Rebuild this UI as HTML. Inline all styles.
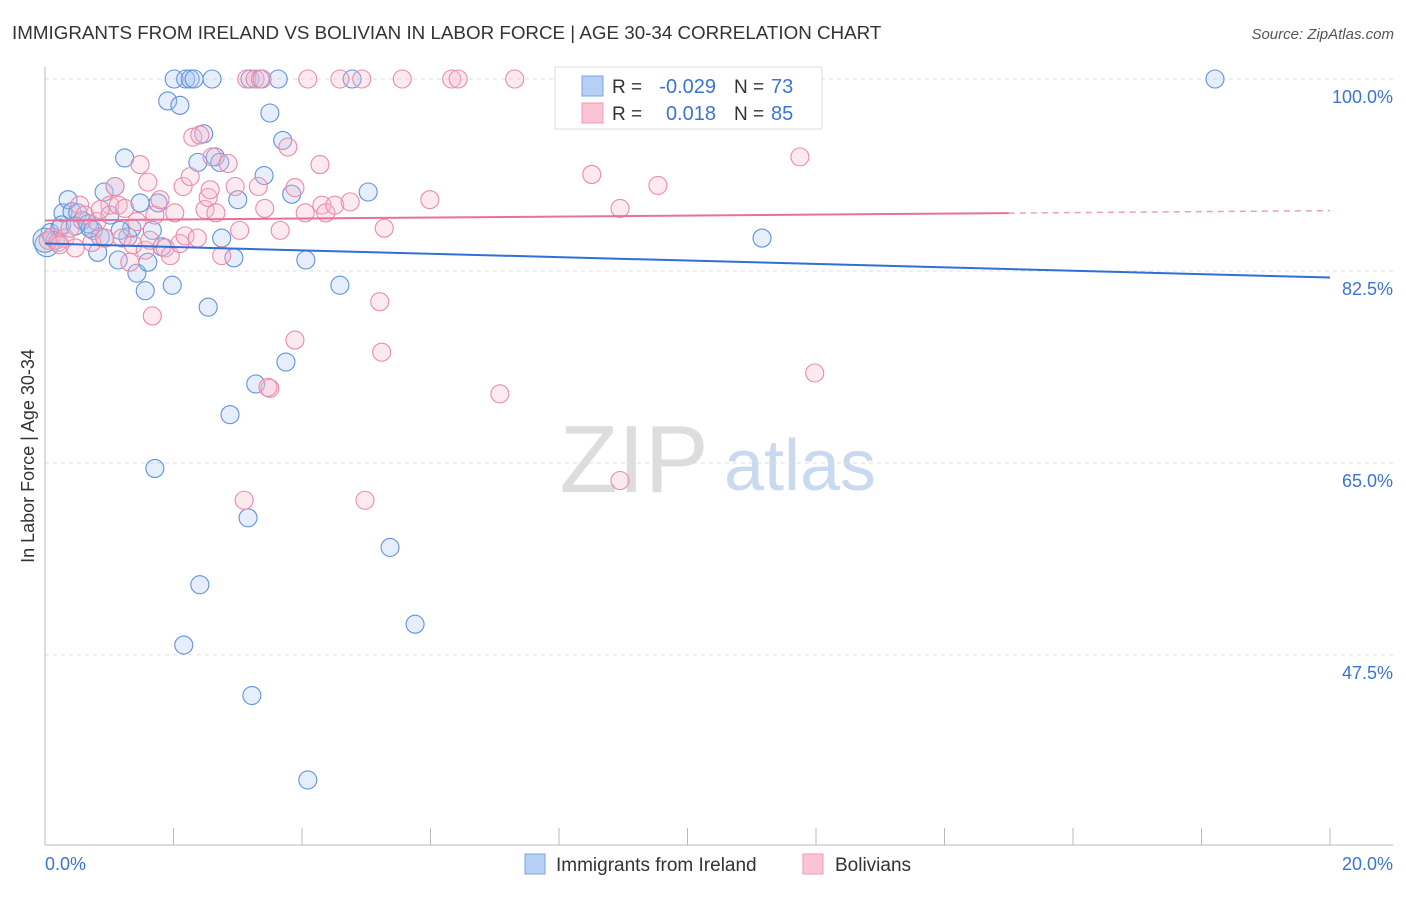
<!DOCTYPE html>
<html><head><meta charset="utf-8"><style>
body{margin:0;background:#fff;font-family:"Liberation Sans",sans-serif;}
svg text{font-family:"Liberation Sans",sans-serif;}
</style></head><body>
<svg id="c" width="1406" height="892">
<text x="12" y="39" font-size="18.8" fill="#333">IMMIGRANTS FROM IRELAND VS BOLIVIAN IN LABOR FORCE | AGE 30-34 CORRELATION CHART</text>
<text x="1394" y="39" font-size="15" fill="#555" font-style="italic" text-anchor="end">Source: ZipAtlas.com</text>
<text x="634" y="492" font-size="96" fill="#ddd" font-family="Liberation Serif" text-anchor="middle">ZIP</text>
<text x="800" y="490" font-size="72" fill="#c9d9ef" text-anchor="middle">atlas</text>
<g id="grid"></g><g id="axes"></g><g id="pts"></g><g id="trend"></g>
<text transform="translate(34,456) rotate(-90)" font-size="18" fill="#333" text-anchor="middle">In Labor Force | Age 30-34</text>
<g>
<rect x="555" y="67" width="267" height="62" fill="#fff" stroke="#ddd"/>
<rect x="582" y="76" width="21" height="20" fill="#b6d0f5" stroke="#7aa6e6"/>
<rect x="582" y="103" width="21" height="20" fill="#fbc4d4" stroke="#f09ab5"/>
<text x="612" y="93" font-size="19" fill="#333">R =</text><text x="716" y="93" font-size="20" fill="#3a74d4" text-anchor="end">-0.029</text>
<text x="734" y="93" font-size="19" fill="#333">N =</text><text x="771" y="93" font-size="20" fill="#3a74d4">73</text>
<text x="612" y="120" font-size="19" fill="#333">R =</text><text x="716" y="120" font-size="20" fill="#3a74d4" text-anchor="end">0.018</text>
<text x="734" y="120" font-size="19" fill="#333">N =</text><text x="771" y="120" font-size="20" fill="#3a74d4">85</text>
</g>
<g>
<rect x="525" y="854" width="20" height="20" fill="#b6d0f5" stroke="#7aa6e6"/>
<text x="556" y="871" font-size="19" fill="#333">Immigrants from Ireland</text>
<rect x="803" y="854" width="20" height="20" fill="#fbc4d4" stroke="#f09ab5"/>
<text x="835" y="871" font-size="19" fill="#333">Bolivians</text>
</g>
</svg>
<script>
const yTicks=[100,82.5,65,47.5];
const yTickLabels=["100.0%","82.5%","65.0%","47.5%"];
const xTickLabels=["0.0%","20.0%"];
const blueX=[0.03,0.08,0.16,0.23,0.28,0.36,0.42,0.51,0.58,0.67,0.75,0.82,0.86,0.92,1.01,1.09,1.14,1.24,1.29,1.35,1.43,1.48,1.56,1.60,1.67,1.76,1.82,1.91,1.98,2.01,2.10,2.19,2.26,2.32,2.38,2.47,2.54,2.60,2.65,2.72,2.75,2.88,2.94,3.00,3.16,3.19,3.22,3.28,3.35,3.41,3.50,3.63,3.70,3.75,3.84,4.06,4.09,4.59,4.78,5.03,5.37,5.76,11.16,18.21,1.71,2.41,2.16,0.26,0.47,0.70,0.93,1.17,0.0];
const blueY=[84.9,86.0,85.3,86.4,87.8,89.0,87.9,87.8,87.1,86.8,86.2,84.2,85.6,89.7,87.6,90.2,83.5,92.8,85.6,86.4,82.3,88.7,80.7,83.3,86.2,88.7,84.7,98.0,81.2,100,97.6,100,100,100,92.4,95.0,79.2,100,92.9,92.4,85.5,69.4,83.7,89.0,60.0,100,43.8,72.2,100,91.2,96.9,100,94.4,74.2,89.5,83.5,36.1,81.2,100,89.7,57.3,50.3,85.5,100,64.5,53.9,48.4,86.7,86.6,86.4,85.5,86.2,85.3];
const pinkX=[0.05,0.11,0.20,0.31,0.39,0.47,0.54,0.62,0.73,0.81,0.93,1.01,1.09,1.14,1.20,1.24,1.32,1.37,1.43,1.48,1.56,1.60,1.67,1.71,1.79,1.87,1.95,2.02,2.10,2.15,2.18,2.26,2.30,2.37,2.41,2.49,2.54,2.60,2.66,2.75,2.85,2.96,3.03,3.10,3.14,3.27,3.32,3.38,3.42,3.50,3.66,3.78,3.89,4.05,4.09,4.28,4.31,4.37,4.51,4.59,4.75,4.93,5.21,5.24,5.28,4.98,5.56,5.99,6.33,6.43,7.08,7.31,8.09,8.51,8.95,8.95,9.54,11.75,11.98,3.89,3.47,1.63,0.86,0.23,2.57];
const pinkY=[85.3,85.6,85.1,85.5,86.4,84.6,88.5,87.6,85.1,87.0,85.5,88.5,90.2,88.5,85.5,88.2,83.3,84.9,87.0,92.2,84.4,90.6,78.4,87.6,89.0,84.6,83.9,87.8,85.0,90.2,85.7,91.1,94.7,85.5,94.9,88.1,89.2,92.9,87.8,83.9,92.3,90.2,86.2,61.6,100,100,90.2,100,88.2,71.8,86.2,93.8,90.1,87.8,100,92.2,88.5,87.8,88.5,100,88.8,100,79.7,75.1,86.4,61.6,100,89.0,100,100,71.3,100,100,91.3,88.2,63.4,90.3,92.9,73.2,76.2,71.9,85.3,88.1,84.9,89.9];
const blueTrend=[85.0,81.9];
const pinkTrend=[87.1,88.0];
const NS="http://www.w3.org/2000/svg";
const X=v=>45+v/20*1285, Y=v=>79+(100-v)*10.97;
function mk(tag,attrs,parent){const e=document.createElementNS(NS,tag);for(const k in attrs)e.setAttribute(k,attrs[k]);document.getElementById(parent).appendChild(e);return e;}
yTicks.forEach((t,i)=>{
 const l=mk('line',{x1:45,x2:1393,y1:Y(t),y2:Y(t),stroke:'#ddd','stroke-dasharray':'4,4'},'grid');
 
 
 const tx=mk('text',{x:1393,y:Y(t)+24,'font-size':18,fill:'#3a74d4','text-anchor':'end'},'grid');
 tx.textContent=yTickLabels[i];
 
 
});
const ax=mk('line',{x1:45,x2:45,y1:67,y2:845,stroke:'#bbb'},'axes');


const bx=mk('line',{x1:45,x2:1393,y1:845,y2:845,stroke:'#bbb'},'axes');


for(let i=0;i<=10;i++){const t=mk('line',{x1:X(i*2),x2:X(i*2),y1:828,y2:845,stroke:'#bbb'},'axes');
 
 }
[[0,'start',45],[20,'end',1393]].forEach((a,i)=>{const t=mk('text',{x:a[2],y:870,'font-size':18,fill:'#3a74d4','text-anchor':a[1]},'axes');t.textContent=xTickLabels[i];
 
 });
function dots(xs,ys,fill,stroke,name){xs.forEach((x,i)=>{const c=mk('circle',{cx:X(x),cy:Y(ys[i]),r:(x<0.05?12:9),fill:fill,'fill-opacity':0.3,stroke:stroke,'stroke-width':1.1},'pts');
 
 });}
dots(blueX,blueY,'#a9c8f0','#5f93db','point-ireland');
dots(pinkX,pinkY,'#f7b8cc','#ec8aaa','point-bolivians');
const bl=mk('line',{x1:X(0),y1:Y(blueTrend[0]),x2:X(20),y2:Y(blueTrend[1]),stroke:'#2f6fd6','stroke-width':2},'trend');


const pm=pinkTrend[0]+(pinkTrend[1]-pinkTrend[0])*0.75;
const pl=mk('line',{x1:X(0),y1:Y(pinkTrend[0]),x2:X(15),y2:Y(pm),stroke:'#e8709a','stroke-width':2},'trend');


const pd=mk('line',{x1:X(15),y1:Y(pm),x2:X(20),y2:Y(pinkTrend[1]),stroke:'#e8a0b8','stroke-width':1.5,'stroke-dasharray':'6,5'},'trend');


</script>
</body></html>
